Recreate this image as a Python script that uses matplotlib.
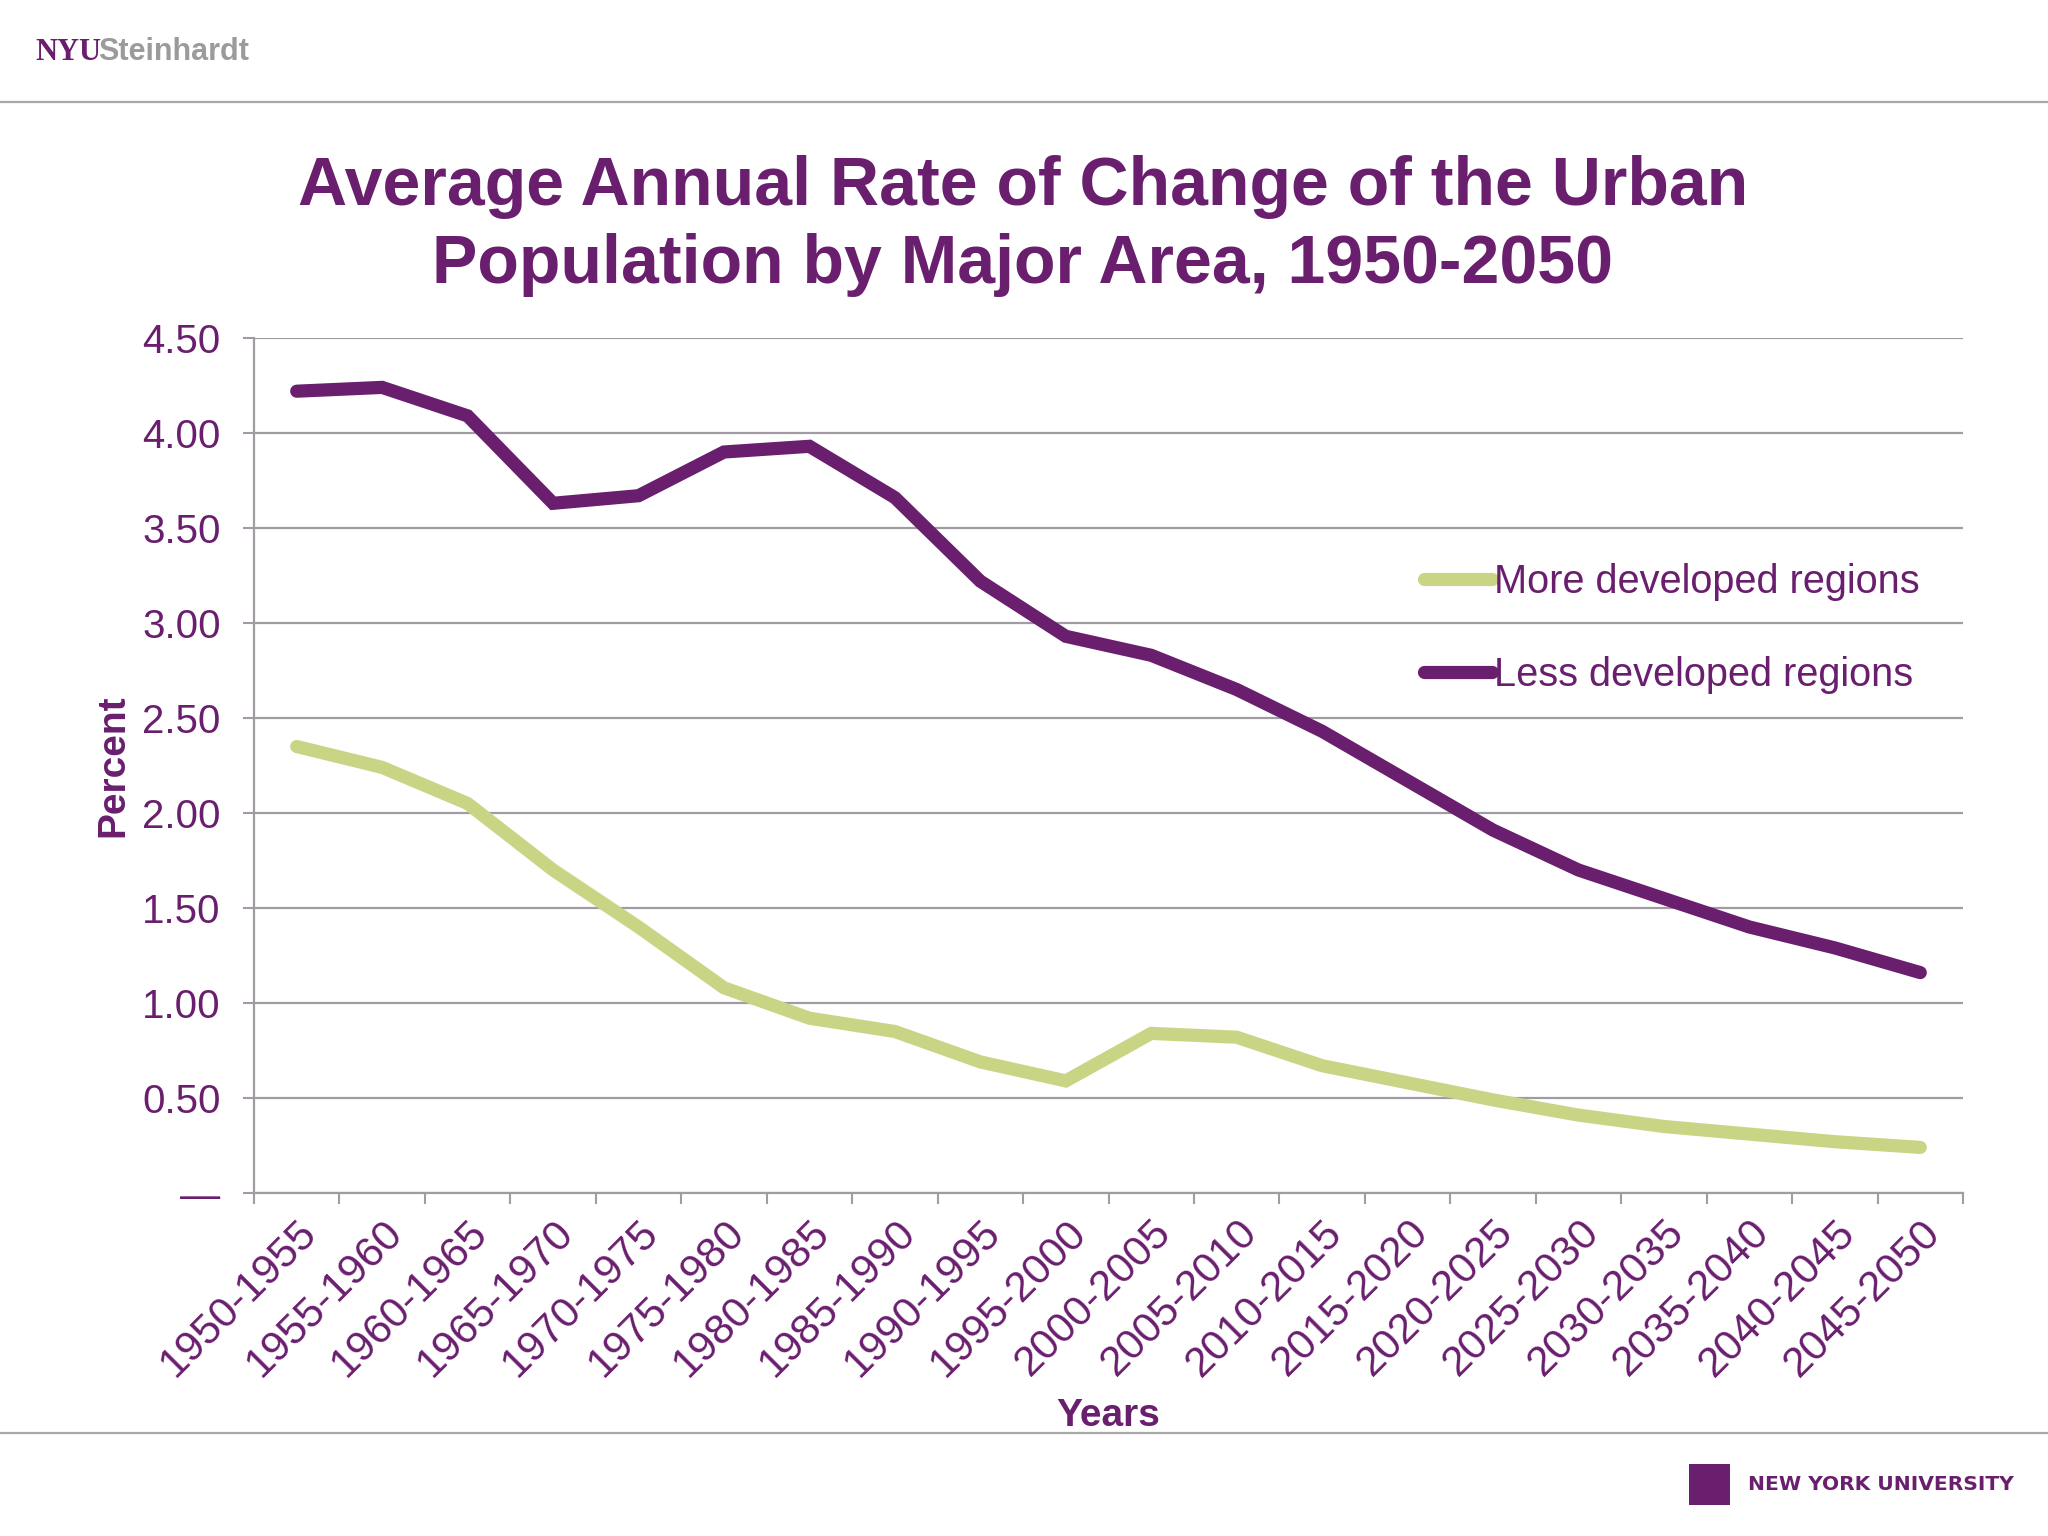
import matplotlib
matplotlib.use("Agg")
import matplotlib.pyplot as plt
from matplotlib.patches import Rectangle
from matplotlib.lines import Line2D

plt.rcParams['font.family'] = ['Liberation Sans', 'DejaVu Sans']

periods = ['1950-1955', '1955-1960', '1960-1965', '1965-1970', '1970-1975',
           '1975-1980', '1980-1985', '1985-1990', '1990-1995', '1995-2000',
           '2000-2005', '2005-2010', '2010-2015', '2015-2020', '2020-2025',
           '2025-2030', '2030-2035', '2035-2040', '2040-2045', '2045-2050']
more_dev = [2.35, 2.24, 2.05, 1.70, 1.40, 1.08, 0.92, 0.85, 0.69, 0.59,
            0.84, 0.82, 0.67, 0.58, 0.49, 0.41, 0.35, 0.31, 0.27, 0.24]
less_dev = [4.22, 4.24, 4.09, 3.63, 3.67, 3.90, 3.93, 3.66, 3.22, 2.93,
            2.83, 2.65, 2.43, 2.17, 1.91, 1.70, 1.55, 1.40, 1.29, 1.16]
yticks = [0, 0.5, 1.0, 1.5, 2.0, 2.5, 3.0, 3.5, 4.0, 4.5]

purple = '#6a1e6e'
green = '#c9d585'
grid_c = '#a39ba3'

fig = plt.figure(figsize=(20.48, 15.36), dpi=100)
fig.patch.set_facecolor('white')

# header / footer
fig.add_artist(Line2D([0, 1], [1 - 102 / 1536] * 2, color='#a8a8a8', lw=1.6))
fig.add_artist(Line2D([0, 1], [1 - 1433 / 1536] * 2, color='#a8a8a8', lw=1.6))
fig.text(35 / 2048, 1 - 52 / 1536, 'NYU', family='Liberation Serif', fontsize=22,
         fontweight='bold', color=purple, va='center', ha='left')
fig.text(98 / 2048, 1 - 52 / 1536, 'Steinhardt', fontsize=22, fontweight='bold',
         color='#9b9b9b', va='center', ha='left')
fig.add_artist(Rectangle((1689 / 2048, 1 - 1505 / 1536), 41 / 2048, 41 / 1536,
                         transform=fig.transFigure, color=purple, lw=0))
fig.text(1748 / 2048, 1 - 1485 / 1536, 'NEW YORK UNIVERSITY', family='DejaVu Sans',
         fontsize=14.6, fontweight='bold', color=purple, va='center', ha='left')

fig.text(0.4995, 1 - 226 / 1536,
         'Average Annual Rate of Change of the Urban\nPopulation by Major Area, 1950-2050',
         ha='center', va='center', fontsize=49, fontweight='bold', color=purple,
         linespacing=1.27)

ax = fig.add_axes([254 / 2048, 1 - 1193 / 1536, (1963 - 254) / 2048, (1193 - 338) / 1536])
x = [i + 0.5 for i in range(len(periods))]
ax.plot(x, more_dev, color=green, lw=9.5, solid_capstyle='round',
        solid_joinstyle='miter', label='More developed regions', zorder=3)
ax.plot(x, less_dev, color=purple, lw=9.5, solid_capstyle='round',
        solid_joinstyle='miter', label='Less developed regions', zorder=3)

ax.set_xlim(0, len(periods))
ax.set_ylim(0, 4.5)
ax.set_yticks(yticks)
ax.set_yticklabels(['\u2014'] + ['%.2f' % v for v in yticks[1:]])
ax.set_xticks(x)
ax.set_xticklabels(periods, rotation=45, ha='right', rotation_mode='anchor')
ax.set_xticks(range(len(periods) + 1), minor=True)
ax.tick_params(axis='x', which='major', length=0, labelsize=30.5, labelcolor=purple, pad=14)
ax.tick_params(axis='x', which='minor', length=8, width=1.5, color=grid_c)
ax.tick_params(axis='y', length=8, width=1.5, color=grid_c, labelsize=29,
               labelcolor=purple, pad=16)
ax.yaxis.grid(True, color=grid_c, lw=1.6)
ax.set_axisbelow(True)
for s in ['top', 'right']:
    ax.spines[s].set_visible(False)
for s in ['left', 'bottom']:
    ax.spines[s].set_color(grid_c)
    ax.spines[s].set_linewidth(1.6)

ax.set_ylabel('Percent', fontsize=28, fontweight='bold', color=purple, labelpad=8)
ax.set_xlabel('Years', fontsize=28, fontweight='bold', color=purple, labelpad=10)

leg = ax.legend(loc='upper left', bbox_to_anchor=(1424 / 2048, 1 - 563 / 1536),
                bbox_transform=fig.transFigure, frameon=False, fontsize=28.6,
                handlelength=1.7, handletextpad=0.05, labelspacing=1.38,
                borderpad=0, borderaxespad=0)
for t in leg.get_texts():
    t.set_color(purple)

plt.savefig('out.png', dpi=100, facecolor='white')
